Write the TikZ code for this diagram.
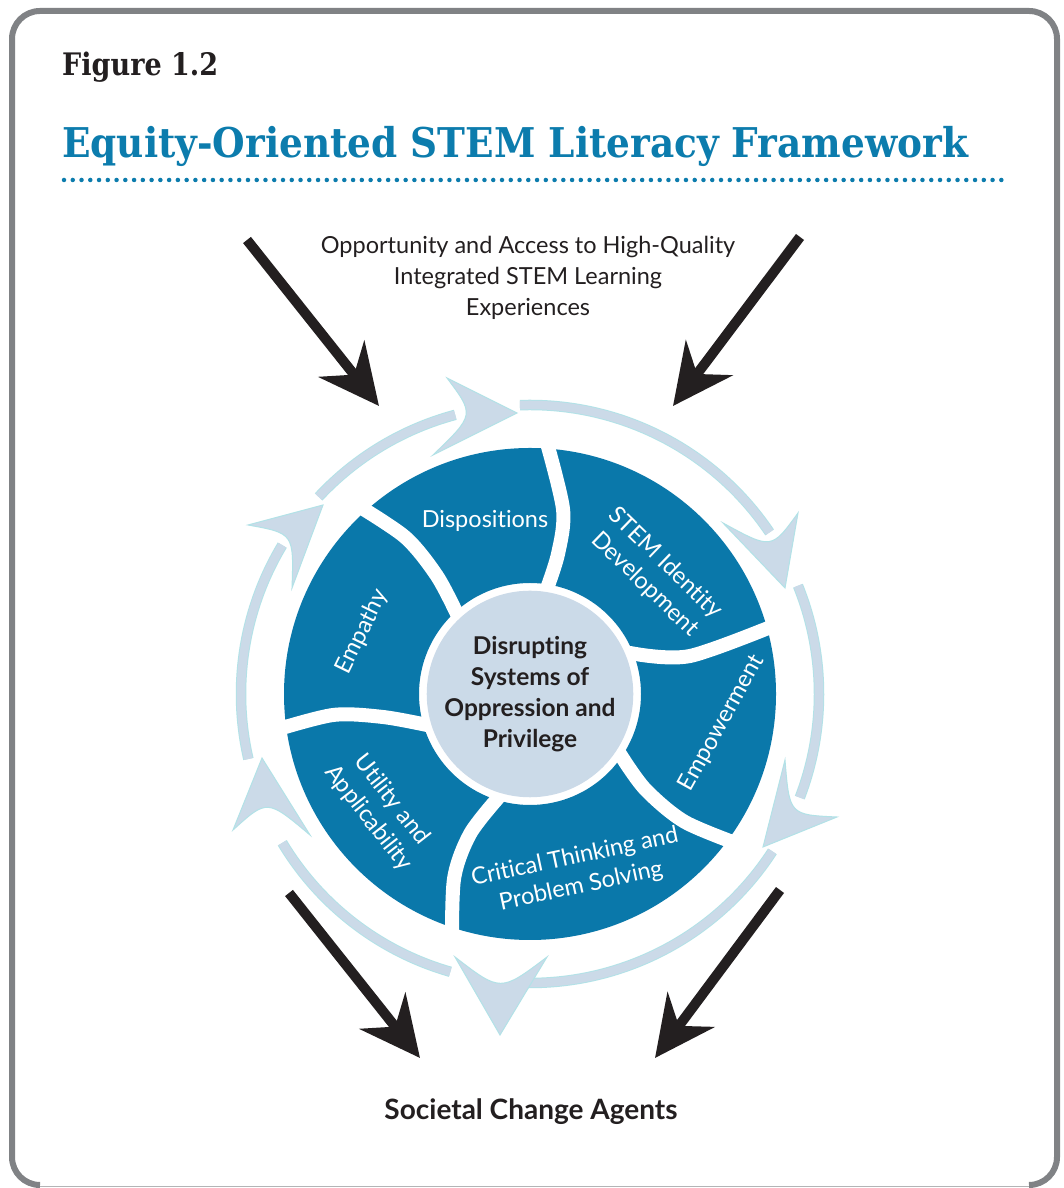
\documentclass[tikz,border=0pt]{standalone}
\usepackage{fontspec}
\usepackage{graphicx}
\setmainfont{Lato}[Ligatures=NoCommon]
\newfontfamily\slabfont{DejaVu Serif}
\usetikzlibrary{arrows.meta,calc}

\definecolor{wheelblue}{HTML}{0A78AA}
\definecolor{titleblue}{HTML}{0C7CAD}
\definecolor{ringfill}{HTML}{CBDAE8}
\definecolor{ringedge}{HTML}{B2E2E7}
\definecolor{inkblack}{HTML}{231F20}
\definecolor{framegray}{HTML}{808285}

\tikzset{
  frame/.style={draw=framegray, line width=6pt},
  bodytext/.style={text=inkblack, align=center, inner sep=0pt, font=\fontsize{23.5}{31}\selectfont},
  seglabel/.style={text=white, align=center, inner sep=0pt, font=\fontsize{23.5}{29.5}\selectfont},
  corecircle/.style={circle, fill=ringfill, minimum size=192pt, inner sep=0pt, align=center,
    text=inkblack, font=\bfseries\fontsize{24.5}{31}\selectfont},
  gapline/.style={draw=white, line width=14pt, line cap=round},
  ringline/.style={draw=ringedge, double=ringfill, double distance=8.5pt, line width=1pt},
  ringhead/.style={fill=ringfill, draw=ringedge, line width=1pt},
  bigarrow/.style={draw=inkblack, line width=10pt, -{Stealth[length=60pt,width=58pt,inset=20pt]}},
}
\newcommand\ringtip[3]{%
  \draw[ringhead] (#2) -- (#1) -- (#3) .. controls ($(#2)!.5!(#3)!.45!(#1)$) .. (#2) -- cycle;}

\begin{document}
\begin{tikzpicture}[x=1pt,y=1pt]
    \useasboundingbox (0,0) rectangle (1064,1188);
    \fill[white] (0,0) rectangle (1064,1188);
    \draw[frame] (40,3) arc[start angle=270,end angle=180,radius=28] -- (12,1149)
      arc[start angle=180,end angle=90,radius=28] -- (1029,1177)
      arc[start angle=90,end angle=0,radius=28] -- (1057,31)
      arc[start angle=0,end angle=-90,radius=28];
    \draw[framegray!60, line width=1.2pt] (40,1.5) -- (1029,1.5);

    \node (fignum) [anchor=base west, inner sep=0pt, text=inkblack] at (62,1112)
      {\resizebox{156pt}{\height}{\slabfont\bfseries\fontsize{31}{31}\selectfont Figure 1.2}};
    \node (title) [anchor=base west, inner sep=0pt, text=titleblue] at (62,1030)
      {\resizebox{906pt}{\height}{\slabfont\bfseries\fontsize{41}{41}\selectfont Equity-Oriented STEM Literacy Framework}};
    \coordinate (rulestart) at (64,1008);
    \coordinate (ruleend) at (1010,1008);
    \draw[titleblue, line width=4.5pt, line cap=round, dash pattern=on 0pt off 8.76pt] (rulestart) -- (ruleend);

    \node (access) [bodytext] at (528,910)
      {Opportunity and Access to High-Quality\\Integrated STEM Learning\\Experiences};
    \node (agents) [bodytext, font=\bfseries\fontsize{28}{32}\selectfont] at (531,76) {Societal Change Agents};

    \coordinate (hub) at (530,494);
    \begin{scope}[shift={(hub)}]
      \fill[wheelblue, even odd rule] (0,0) circle[radius=246] (0,0) circle[radius=111];
      \draw[gapline] plot[smooth] coordinates {(-72,78) (-93,118) (-125,157) (-178,192)};
      \draw[gapline] plot[smooth] coordinates {(15,100) (28,140) (33,185) (15,258)};
      \draw[gapline] plot[smooth] coordinates {(100,41) (160,38) (258,74)};
      \draw[gapline] plot[smooth] coordinates {(90,-60) (115,-95) (155,-128) (216,-153)};
      \draw[gapline] plot[smooth] coordinates {(-32,-104) (-60,-140) (-76,-185) (-78,-258)};
      \draw[gapline] plot[smooth] coordinates {(-103,-31) (-147,-23) (-197,-21) (-258,-37)};
      \node (core) [corecircle] at (0,0) {Disrupting\\Systems of\\Oppression and\\Privilege};
      \node (dispo) [seglabel] at (-45,173) {Dispositions};
      \node (identity) [seglabel, rotate=-44] at (125,120) {STEM Identity\\Development};
      \node (empower) [seglabel, rotate=61] at (192,-29) {Empowerment};
      \node (critical) [seglabel, rotate=12] at (48,-178) {Critical Thinking and\\Problem Solving};
      \node (utility) [seglabel, rotate=-52] at (-150,-115) {Utility and\\Applicability};
      \node (empathy) [seglabel, rotate=64] at (-168,62) {Empathy};
    \end{scope}

    \draw[ringline] (hub) ++(137:289) arc[start angle=137,end angle=105,radius=289];
    \draw[ringline] (hub) ++(92:289) arc[start angle=92,end angle=34,radius=289];
    \draw[ringline] (hub) ++(22:289) arc[start angle=22,end angle=-21,radius=289];
    \draw[ringline] (hub) ++(-33:289) arc[start angle=-33,end angle=-92,radius=289];
    \draw[ringline] (hub) ++(254:289) arc[start angle=254,end angle=211,radius=289];
    \draw[ringline] (hub) ++(193:289) arc[start angle=193,end angle=149,radius=289];
    \ringtip{517,775}{447,810}{433,733}
    \ringtip{785,600}{723,665}{798,675}
    \ringtip{763,341}{785,428}{837,371}
    \ringtip{500,153}{547,231}{455,231}
    \ringtip{262,430}{233,358}{310,353}
    \ringtip{323,683}{248,663}{292,600}

    \coordinate (tlfrom) at (247,948);
    \coordinate (tlto) at (379,782);
    \coordinate (trfrom) at (800,951);
    \coordinate (trto) at (673,782);
    \coordinate (blfrom) at (289,295);
    \coordinate (blto) at (420,130);
    \coordinate (brfrom) at (780,298);
    \coordinate (brto) at (655,130);
    \draw[bigarrow] (tlfrom) -- (tlto);
    \draw[bigarrow] (trfrom) -- (trto);
    \draw[bigarrow] (blfrom) -- (blto);
    \draw[bigarrow] (brfrom) -- (brto);
\end{tikzpicture}
\end{document}
